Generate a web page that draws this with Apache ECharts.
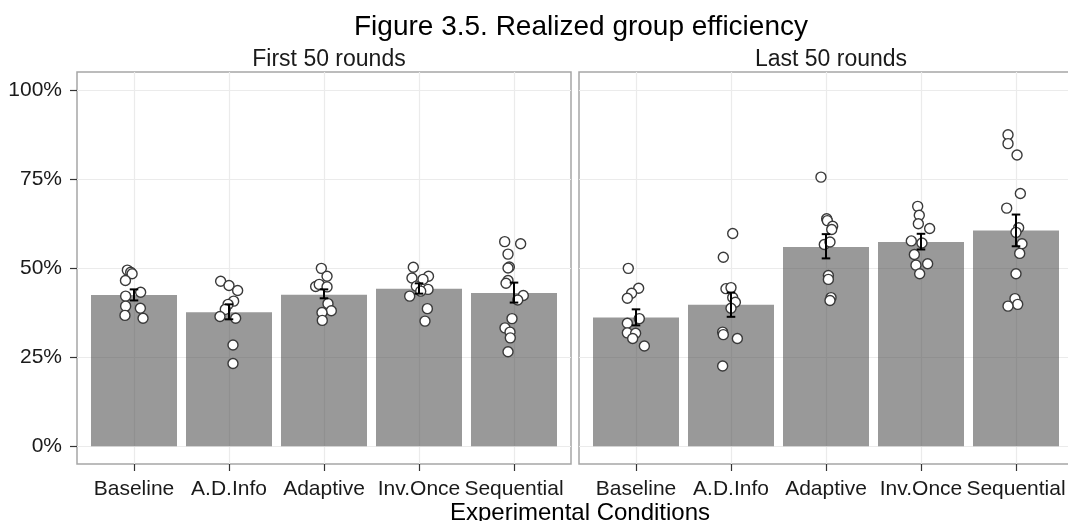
<!DOCTYPE html>
<html>
<head>
<meta charset="utf-8">
<script src="https://cdn.jsdelivr.net/npm/echarts@6/dist/echarts.min.js"></script>
<style>
  html, body { margin: 0; padding: 0; background: #fff; }
  #chart { width: 1068px; height: 521px; }
</style>
</head>
<body>
<div id="chart"></div>
<script>
// Categories and panels
const conditions = ["Baseline", "A.D.Info", "Adaptive", "Inv.Once", "Sequential"];
const panelTitles = ["First 50 rounds", "Last 50 rounds"];
const yTicks = [0, 25, 50, 75, 100];

// Mean efficiency (%) per condition
const firstMeans = [42.4, 37.6, 42.5, 44.2, 43.0];
const lastMeans = [36.1, 39.7, 55.9, 57.3, 60.5];

// Error bar ends (%)
const firstLow = [40.9, 35.6, 41.5, 42.8, 40.3];
const firstHigh = [44.0, 39.8, 44.0, 45.7, 45.9];
const lastLow = [33.9, 36.3, 52.7, 55.2, 56.1];
const lastHigh = [38.4, 43.1, 59.5, 59.6, 65.0];

// Group points: [jitter offset, efficiency %] per condition
const firstPoints = [
  [[-0.07, 49.4], [-0.035, 48.8], [-0.02, 48.4], [-0.09, 46.5], [0.07, 43.2],
   [-0.088, 42.1], [-0.088, 39.3], [0.067, 38.7], [-0.095, 36.7], [0.095, 35.9]],
  [[-0.088, 46.3], [0, 45.1], [0.091, 43.7], [0.049, 40.7], [-0.01, 39.8],
   [-0.039, 38.4], [-0.095, 36.4], [0.07, 35.9], [0.042, 28.4], [0.042, 23.2]],
  [[-0.028, 49.9], [0.032, 47.7], [-0.088, 44.8], [-0.05, 45.4], [0.032, 44.7],
   [0.042, 40.0], [0.077, 38.0], [-0.021, 37.5], [-0.018, 35.3]],
  [[-0.06, 50.2], [0.1, 47.7], [-0.074, 47.2], [0.042, 46.8], [-0.028, 44.9],
   [0.095, 44.0], [-0.098, 42.1], [0.018, 43.5], [0.088, 38.6], [0.063, 35.1]],
  [[-0.098, 57.4], [0.07, 56.8], [-0.063, 53.9], [-0.049, 50.3], [-0.063, 50.0],
   [-0.063, 46.5], [-0.084, 45.7], [0.098, 42.3], [0.039, 41.0], [-0.021, 35.8],
   [-0.095, 33.2], [-0.042, 32.0], [-0.039, 30.4], [-0.063, 26.5]]
];
const lastPoints = [
  [[-0.081, 49.9], [0.028, 44.3], [-0.046, 42.9], [-0.091, 41.5], [0.035, 35.8],
   [-0.091, 34.5], [-0.091, 31.8], [-0.004, 31.7], [-0.035, 30.2], [0.088, 28.1]],
  [[0.018, 59.7], [-0.081, 53.0], [-0.053, 44.2], [0, 44.5], [0.018, 41.7],
   [0.046, 40.4], [0, 38.7], [-0.088, 32.0], [-0.081, 31.3], [0.067, 30.2], [-0.088, 22.5]],
  [[-0.053, 75.5], [0.007, 63.8], [0.014, 63.3], [0.07, 61.7], [0.06, 60.8],
   [-0.018, 56.6], [0.042, 57.3], [0.025, 47.9], [0.025, 46.8], [0.053, 41.7], [0.042, 40.9]],
  [[-0.035, 67.3], [-0.018, 64.8], [-0.028, 62.4], [0.091, 61.1], [-0.102, 57.6],
   [0.01, 57.0], [-0.07, 53.8], [0.07, 51.2], [-0.053, 50.8], [-0.014, 48.4]],
  [[-0.084, 87.4], [-0.084, 84.9], [0.011, 81.7], [0.046, 70.9], [-0.098, 66.8],
   [0.028, 61.3], [0, 60.0], [0.063, 56.8], [0.039, 54.1], [0, 48.4],
   [-0.011, 41.4], [0.018, 39.8], [-0.084, 39.3]]
];

const FONT = "Liberation Sans, Arial, sans-serif";
const catIdx = conditions.map((c, i) => i);
const gridLeft = [77, 579];
const panelWidth = 494;

// error bar: vertical stem with two caps
function errorBarItem(params, api) {
  const x = api.value(0);
  const lo = api.coord([x, api.value(1)]);
  const hi = api.coord([x, api.value(2)]);
  const half = api.size([0.09, 0])[0] / 2;
  const style = { stroke: "#000", lineWidth: 2 };
  return {
    type: "group",
    children: [
      { type: "line", shape: { x1: lo[0], y1: lo[1], x2: hi[0], y2: hi[1] }, style },
      { type: "line", shape: { x1: lo[0] - half, y1: lo[1], x2: lo[0] + half, y2: lo[1] }, style },
      { type: "line", shape: { x1: hi[0] - half, y1: hi[1], x2: hi[0] + half, y2: hi[1] }, style }
    ]
  };
}

const panelData = [
  { means: firstMeans, low: firstLow, high: firstHigh, points: firstPoints },
  { means: lastMeans, low: lastLow, high: lastHigh, points: lastPoints }
];

const series = [];
panelData.forEach((p, k) => {
  series.push({
    type: "bar",
    xAxisIndex: k,
    yAxisIndex: k,
    barWidth: 86,
    itemStyle: { color: "rgba(70,70,70,0.55)" },
    silent: true,
    z: 2,
    data: p.means.map((v, i) => [i, v])
  });
  const pts = [];
  p.points.forEach((group, i) => {
    group.forEach((d) => pts.push([i + d[0], d[1]]));
  });
  series.push({
    type: "scatter",
    xAxisIndex: k,
    yAxisIndex: k,
    symbolSize: 10,
    itemStyle: { color: "#fff", borderColor: "#3a3a3a", borderWidth: 1.4, opacity: 1 },
    z: 3,
    data: pts
  });
  series.push({
    type: "custom",
    xAxisIndex: k,
    yAxisIndex: k,
    renderItem: errorBarItem,
    encode: { x: 0, y: [1, 2] },
    z: 4,
    data: p.low.map((v, i) => [i, v, p.high[i]])
  });
});

const chart = echarts.init(document.getElementById("chart"));

const option = {
  animation: false,
  backgroundColor: "#fff",
  title: [
    {
      text: "Figure 3.5. Realized group efficiency",
      left: 576,
      top: 8,
      textAlign: "center",
      textStyle: { fontFamily: FONT, fontSize: 28, fontWeight: "normal", color: "#000" }
    },
    ...panelTitles.map((t, k) => ({
      text: t,
      left: gridLeft[k] + panelWidth / 2,
      top: 43,
      textAlign: "center",
      textStyle: { fontFamily: FONT, fontSize: 23, fontWeight: "normal", color: "#1a1a1a" }
    })),
    {
      text: "Experimental Conditions",
      left: 575,
      top: 496,
      textAlign: "center",
      textStyle: { fontFamily: FONT, fontSize: 24, fontWeight: "normal", color: "#000" }
    }
  ],
  grid: gridLeft.map((l) => ({
    left: l,
    top: 72,
    width: panelWidth,
    height: 392,
    show: true,
    borderColor: "#a6a6a6",
    borderWidth: 1.5,
    backgroundColor: "transparent",
    outerBoundsMode: "none",
    containLabel: false
  })),
  xAxis: gridLeft.map((l, k) => ({
    type: "value",
    gridIndex: k,
    min: -0.6,
    max: 4.6,
    axisLine: { show: false, onZero: false },
    axisTick: { show: true, customValues: catIdx, length: 7, lineStyle: { color: "#333", width: 1.2 } },
    axisLabel: {
      customValues: catIdx,
      formatter: (v) => conditions[Math.round(v)],
      fontFamily: FONT,
      fontSize: 21,
      color: "#1a1a1a",
      margin: 15
    },
    splitLine: { show: true, lineStyle: { color: "#ebebeb", width: 1.2 } }
  })),
  yAxis: gridLeft.map((l, k) => ({
    type: "value",
    gridIndex: k,
    min: -5,
    max: 105,
    axisLine: { show: false, onZero: false },
    axisTick: { show: k === 0, customValues: yTicks, length: 7, lineStyle: { color: "#333", width: 1.2 } },
    axisLabel: {
      show: k === 0,
      customValues: yTicks,
      formatter: "{value}%",
      fontFamily: FONT,
      fontSize: 21,
      color: "#1a1a1a",
      margin: 15
    },
    splitLine: { show: true, lineStyle: { color: "#ebebeb", width: 1.2 } }
  })),
  series: series
};

chart.setOption(option);
</script>
</body>
</html>
